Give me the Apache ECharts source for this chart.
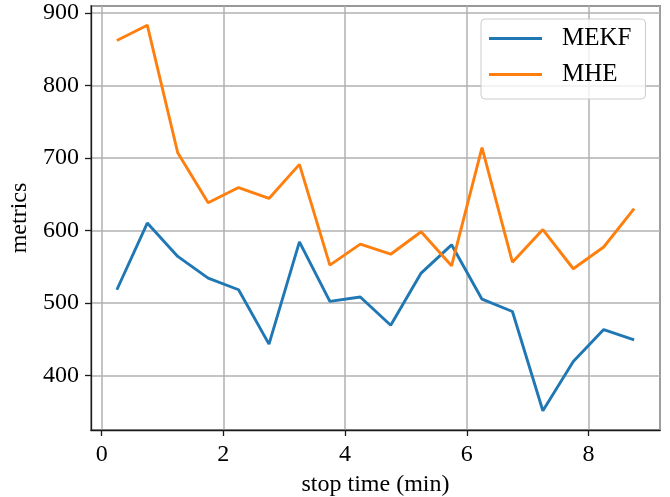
<!DOCTYPE html>
<html>
<head>
<meta charset="utf-8">
<script src="https://cdn.jsdelivr.net/npm/echarts@6/dist/echarts.min.js"></script>
<style>
  html, body { margin: 0; padding: 0; background: #fff; }
  #chart { width: 670px; height: 497px; }
</style>
</head>
<body>
<div id="chart"></div>
<script>
var stopTimes = [0.25, 0.75, 1.25, 1.75, 2.25, 2.75, 3.25, 3.75, 4.25, 4.75, 5.25, 5.75, 6.25, 6.75, 7.25, 7.75, 8.25, 8.75];
var mekf = [518, 610, 564, 534, 518, 443, 584, 502, 508, 469, 541, 580, 505, 488, 351, 419, 463, 449];
var mhe = [862, 883, 707, 638, 659, 644, 691, 552, 581, 567, 598, 551, 714, 556, 601, 547, 577, 630];
var seriesNames = ['MEKF', 'MHE'];

function pairs(xs, ys) {
    return xs.map(function (x, i) {
        return [x, ys[i]];
    });
}

var font = '"Liberation Serif", "DejaVu Serif", serif';
var chart = echarts.init(document.getElementById('chart'));

var option = {
    animation: false,
    backgroundColor: '#ffffff',
    textStyle: { fontFamily: font },
    grid: {
        left: 91,
        right: 10,
        top: 6,
        bottom: 67,
        outerBoundsMode: 'none',
        containLabel: false,
        show: true,
        borderColor: '#1a1a1a',
        borderWidth: 1.3,
        backgroundColor: 'transparent'
    },
    legend: {
        data: seriesNames,
        orient: 'vertical',
        left: 481,
        top: 19,
        icon: 'rect',
        itemWidth: 53,
        itemHeight: 3,
        itemGap: 11,
        padding: [7, 14, 12, 8],
        backgroundColor: 'rgba(255,255,255,0.8)',
        borderColor: '#cccccc',
        borderWidth: 1,
        borderRadius: 4,
        textStyle: {
            fontFamily: font,
            fontSize: 25,
            lineHeight: 24,
            color: '#000',
            padding: [0, 0, 0, 15]
        }
    },
    xAxis: {
        type: 'value',
        min: -0.175,
        max: 9.175,
        splitNumber: 5,
        name: 'stop time (min)',
        nameLocation: 'middle',
        nameGap: 43,
        nameTextStyle: { fontFamily: font, fontSize: 24, color: '#000' },
        axisLine: { show: true, onZero: false, lineStyle: { color: '#1a1a1a', width: 1.3 } },
        axisTick: { show: true, length: 6, lineStyle: { color: '#1a1a1a', width: 1.3 } },
        axisLabel: {
            margin: 13,
            fontFamily: font,
            fontSize: 24,
            color: '#000',
            showMinLabel: false,
            showMaxLabel: false,
            formatter: function (v) {
                return (Math.abs(v - Math.round(v)) < 1e-6) ? String(Math.round(v)) : '';
            }
        },
        splitLine: { show: true, lineStyle: { color: '#b0b0b0', width: 1.5 } }
    },
    yAxis: {
        type: 'value',
        min: 324.5,
        max: 909.5,
        splitNumber: 5,
        name: 'metrics',
        nameLocation: 'middle',
        nameGap: 51,
        nameTextStyle: { fontFamily: font, fontSize: 24, color: '#000' },
        axisLine: { show: true, onZero: false, lineStyle: { color: '#1a1a1a', width: 1.3 } },
        axisTick: { show: true, length: 6, lineStyle: { color: '#1a1a1a', width: 1.3 } },
        axisLabel: {
            margin: 12,
            fontFamily: font,
            fontSize: 24,
            color: '#000',
            showMinLabel: false,
            showMaxLabel: false,
            formatter: function (v) {
                return (Math.abs(v % 100) < 1e-6) ? String(v) : '';
            }
        },
        splitLine: { show: true, lineStyle: { color: '#b0b0b0', width: 1.5 } }
    },
    series: [
        {
            name: seriesNames[0],
            type: 'line',
            data: pairs(stopTimes, mekf),
            showSymbol: false,
            symbol: 'none',
            lineStyle: { color: '#1f77b4', width: 2.9 },
            itemStyle: { color: '#1f77b4' },
            z: 3
        },
        {
            name: seriesNames[1],
            type: 'line',
            data: pairs(stopTimes, mhe),
            showSymbol: false,
            symbol: 'none',
            lineStyle: { color: '#ff7f0e', width: 2.9 },
            itemStyle: { color: '#ff7f0e' },
            z: 3
        }
    ]
};

chart.setOption(option);
</script>
</body>
</html>
